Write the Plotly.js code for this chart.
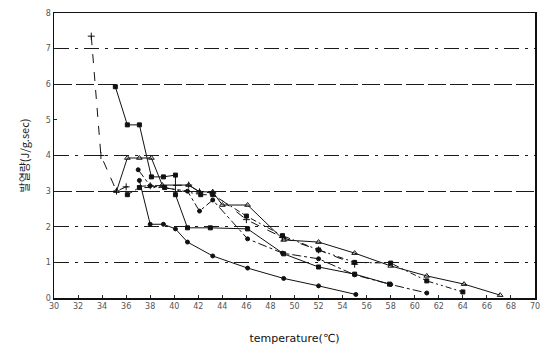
<!DOCTYPE html>
<html><head><meta charset="utf-8">
<script src="https://cdn.plot.ly/plotly-3.0.1.min.js"></script>
<style>html,body{margin:0;padding:0;background:#fff}</style>
</head><body><div id="chart" style="width:544px;height:354px"></div>
<script>
// Temperature (℃) and heat release (J/g.sec)
const xTickVals = [30,32,34,36,38,40,42,44,46,48,50,52,54,56,58,60,62,64,66,68,70];
const xTickText = ["30","32","34","36","38","40","42","44","46","48","50","52","54","56","58","60","62","64","66","68","70"];
const yTickVals = [0,1,2,3,4,5,6,7,8];
const solidGridVals = [3,6];
const dashGridVals = [1,2,4,7];

const tempA = [33.1,33.9,35.2,36.0,38.0,41.2,42.1,43.2,46.0,49.0,52.0,55.0];
const valA  = [7.35,4.00,3.00,3.12,3.15,3.17,2.98,2.95,2.20,1.70,1.35,0.95];

const tempB = [37.1,38.0,39.1,40.1,41.1,43.2,46.1,49.1,52.0,55.1];
const valB  = [3.30,2.07,2.07,1.94,1.57,1.18,0.84,0.55,0.34,0.10];

const tempC = [35.1,36.1,37.1,38.1,39.1,40.1,40.1,41.1,43.0,46.1,49.1,52.0,55.0,57.9];
const valC  = [5.93,4.86,4.86,3.40,3.40,3.45,2.90,1.97,1.97,1.94,1.24,0.87,0.67,0.39];

const tempD = [35.2,36.1,37.1,38.1,39.0,41.2,42.1,43.2,44.0,46.1,49.1,52.0,55.0,58.0,61.0,64.1,67.1];
const valD  = [3.00,3.93,3.93,3.93,3.17,3.17,2.98,2.98,2.61,2.61,1.63,1.57,1.26,0.90,0.62,0.39,0.08];

const tempE = [37.0,38.0,41.1,42.1,43.2,46.1,49.0,52.0,55.0,58.0,61.0];
const valE  = [3.60,3.15,3.00,2.44,2.75,1.66,1.26,1.10,0.65,0.38,0.14];

const tempF = [36.1,37.1,39.2,42.2,43.2,46.0,49.0,52.0,55.0,58.0,61.0,64.0];
const valF  = [2.90,3.10,3.10,2.90,2.90,2.30,1.75,1.35,1.00,0.98,0.48,0.17];

const series = [
  {x: tempA, y: valA, dash: 'dash', sym: 'cross-thin', size: 5},
  {x: tempB, y: valB, dash: 'solid', sym: 'circle', size: 4},
  {x: tempC, y: valC, dash: 'solid', sym: 'square', size: 4},
  {x: tempD, y: valD, dash: 'solid', sym: 'triangle-up-open', size: 5},
  {x: tempE, y: valE, dash: 'dashdot', sym: 'circle', size: 4},
  {x: tempF, y: valF, dash: '6px,3px,2px,3px,2px,3px', sym: 'square', size: 4}
];

const traces = series.map(s => ({
  type: 'scatter', mode: 'lines+markers', x: s.x, y: s.y,
  line: {color: '#111', width: 1.0, dash: s.dash},
  marker: {color: '#111', symbol: s.sym, size: s.size, line: {color: '#111', width: 1}},
  showlegend: false, hoverinfo: 'skip'
}));

const gridAxis = (vals, dash) => ({
  range: [0, 8], overlaying: 'y', tickvals: vals, showticklabels: false, ticks: '',
  showgrid: true, gridcolor: '#1a1a1a', gridwidth: 1.1, griddash: dash,
  zeroline: false, showline: false
});

const layout = {
  width: 544, height: 354,
  margin: {l: 54, r: 9, t: 13, b: 56},
  paper_bgcolor: '#fff', plot_bgcolor: '#fff',
  font: {family: 'DejaVu Sans, sans-serif', color: '#222'},
  xaxis: {
    range: [30, 70], tickvals: xTickVals, ticktext: xTickText,
    ticks: 'inside', ticklen: 3, tickcolor: '#222',
    showgrid: false, zeroline: false,
    showline: true, linecolor: '#111', linewidth: 1.5, mirror: true,
    tickfont: {size: 8, color: '#555'},
    title: {text: 'temperature(℃)', font: {size: 11, color: '#111'}, standoff: 24}
  },
  yaxis: {
    range: [0, 8], tickvals: yTickVals,
    ticks: 'inside', ticklen: 3, tickcolor: '#222',
    showgrid: false, zeroline: false,
    showline: true, linecolor: '#111', linewidth: 1.5, mirror: true,
    tickfont: {size: 8, color: '#555'},
    title: {text: '발열량(J/g.sec)', font: {size: 11, color: '#222', family: 'Noto Sans CJK KR, sans-serif'}, standoff: 14}
  },
  yaxis2: gridAxis(solidGridVals, '18px,4px'),
  yaxis3: gridAxis(dashGridVals, 'longdashdot')
};

traces.push({type: 'scatter', x: [30], y: [0], yaxis: 'y2', mode: 'markers', marker: {opacity: 0}, showlegend: false, hoverinfo: 'skip'});
traces.push({type: 'scatter', x: [30], y: [0], yaxis: 'y3', mode: 'markers', marker: {opacity: 0}, showlegend: false, hoverinfo: 'skip'});

Plotly.newPlot('chart', traces, layout, {staticPlot: true, displayModeBar: false});
</script></body></html>
